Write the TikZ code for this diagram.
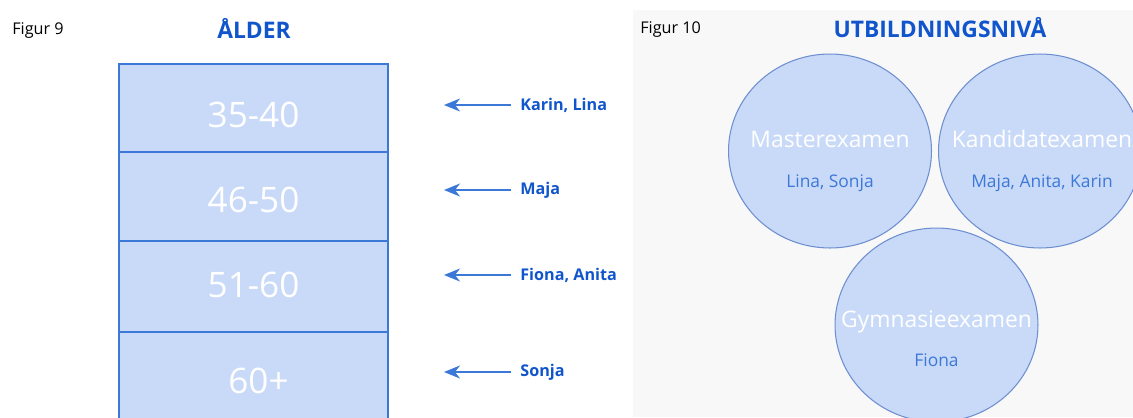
\documentclass[tikz,border=0pt]{standalone}
\usepackage{fontspec}
\setmainfont{Open Sans}
\usetikzlibrary{arrows.meta, positioning, shapes.geometric}

\definecolor{titleblue}{HTML}{1155CC}
\definecolor{boxfill}{HTML}{C9DAF8}
\definecolor{boxline}{HTML}{3C78D8}
\definecolor{ringline}{HTML}{6D8FD0}
\definecolor{panelgray}{HTML}{F8F8F8}

\begin{document}
\begin{tikzpicture}[x=0.02cm, y=-0.02cm,
    title/.style={font=\fontsize{13}{15}\selectfont\bfseries, text=titleblue},
    figlabel/.style={anchor=west, inner sep=0pt, font=\fontsize{9.2}{11}\selectfont},
    agebox/.style={draw=boxline, line width=1.3pt, fill=boxfill, text=white,
        minimum width=5.38cm, font=\fontsize{20}{24}\selectfont},
    who/.style={anchor=west, inner sep=0.18cm, text=titleblue,
        font=\fontsize{9.2}{11}\selectfont\bfseries},
    pointer/.style={-{Stealth[length=0.32cm, width=0.26cm, inset=0.1cm]},
        draw=boxline, line width=1.1pt},
    exam/.style={ellipse, draw=ringline, line width=0.6pt, fill=boxfill,
        minimum width=4.06cm, minimum height=3.88cm},
    examname/.style={text=white, font=\fontsize{13}{15}\selectfont},
    examwho/.style={text=boxline, font=\fontsize{9.9}{12}\selectfont}]

    \useasboundingbox (0,0) rectangle (1133,417);
    \clip (0,0) rectangle (1133,417);

    % Figur 9: age
    \node[figlabel] (fig9) at (12,31) {Figur 9};
    \node[title] (alder) at (254,28) {ÅLDER};

    \node[agebox, minimum height=1.76cm, text height=0.78cm] (a1) at (253.5,108) {35-40};
    \node[agebox, minimum height=1.78cm, text height=0.64cm] (a2) at (253.5,196.5) {46-50};
    \node[agebox, minimum height=1.82cm, text depth=0.06cm] (a3) at (253.5,286.5) {51-60};
    \node[agebox, minimum height=1.96cm] (a4) at (253.5,381) {\hspace{0.2cm}60+};

    % Who is in which age group
    \coordinate (t1) at (444,105);
    \coordinate (t2) at (444,190);
    \coordinate (t3) at (444,275);
    \coordinate (t4) at (444,372);
    \node[who] (w1) at (511,105) {Karin, Lina};
    \node[who] (w2) at (511,190) {Maja};
    \node[who] (w3) at (511,275) {Fiona, Anita};
    \node[who] (w4) at (511,372) {Sonja};
    \foreach \i in {1,...,4}
        \draw[pointer] (w\i.west) -- (t\i);

    % Figur 10: education level
    \fill[panelgray] (633,10) rectangle (1133,417);
    \node[figlabel] (fig10) at (640,30) {Figur 10};
    \node[title] (niva) at (940,28) {UTBILDNINGSNIVÅ};

    \node[exam] (mast) at (830,151) {};
    \node[exam] (kand) at (1040,151) {};
    \node[exam] (gymn) at (936.5,325) {};

    \node[examname] (mastname) at (830,139) {Masterexamen};
    \node[examwho] (mastwho) at (830,183) {Lina, Sonja};
    \node[examname] (kandname) at (1042,139) {Kandidatexamen};
    \node[examwho] (kandwho) at (1042,183) {Maja, Anita, Karin};
    \node[examname] (gymnname) at (936.5,322) {Gymnasieexamen};
    \node[examwho] (gymnwho) at (936.5,360) {Fiona};
\end{tikzpicture}
\end{document}
